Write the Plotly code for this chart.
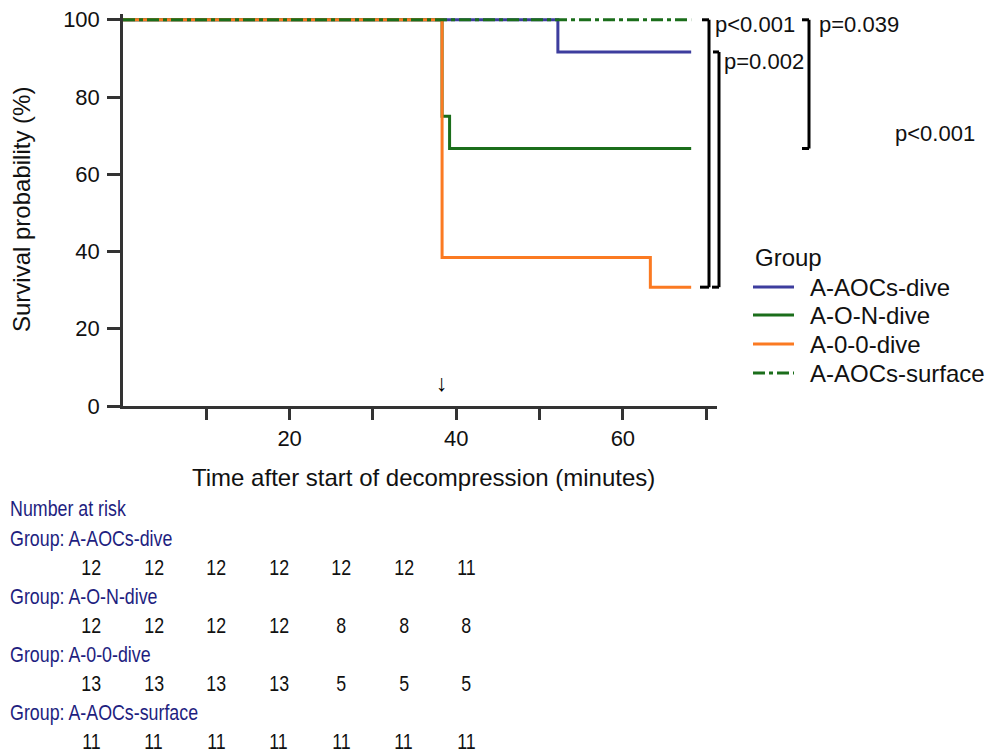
import plotly.graph_objects as go

W, H = 985, 755

# ---- data ----
groups = ["A-AOCs-dive", "A-O-N-dive", "A-0-0-dive", "A-AOCs-surface"]
t_aocs_dive = [0, 52.2, 68.2]
s_aocs_dive = [100, 91.67, 91.67]
t_on_dive = [0, 38.3, 39.2, 68.2]
s_on_dive = [100, 75.0, 66.67, 66.67]
t_00_dive = [0, 38.3, 63.3, 68.2]
s_00_dive = [100, 38.46, 30.77, 30.77]
t_surface = [0, 68.2]
s_surface = [100, 100]

risk_times = [0, 10, 20, 30, 40, 50, 60]
risk_aocs_dive = [12, 12, 12, 12, 12, 12, 11]
risk_on_dive = [12, 12, 12, 12, 8, 8, 8]
risk_00_dive = [13, 13, 13, 13, 5, 5, 5]
risk_surface = [11, 11, 11, 11, 11, 11, 11]

x_tickvals = [10, 20, 30, 40, 50, 60, 70]
x_ticktext = ["", "20", "", "40", "", "60", ""]
y_tickvals = [0, 20, 40, 60, 80, 100]

pvals = ["p<0.001", "p=0.002", "p=0.039", "p<0.001"]
arrow_time = 38.3

# ---- style ----
C_BLUE = "#3d3d9e"
C_GREEN = "#1b6e1b"
C_ORANGE = "#fb7a22"
NAVY = "#1e1e80"
AX = "#333333"
TXT = "#111111"
FONT = "Liberation Sans, Arial, sans-serif"
NARROW = "Liberation Sans Narrow, Arial Narrow, Liberation Sans, sans-serif"
DASHDOT = "12px,4px,4px,4px"


def px(x):
    return x / W


def py(y):
    return 1 - y / H


fig = go.Figure()
series = [
    (groups[0], t_aocs_dive, s_aocs_dive, C_BLUE, "solid"),
    (groups[1], t_on_dive, s_on_dive, C_GREEN, "solid"),
    (groups[2], t_00_dive, s_00_dive, C_ORANGE, "solid"),
    (groups[3], t_surface, s_surface, C_GREEN, DASHDOT),
]
for name, t, s, c, d in series:
    fig.add_trace(go.Scatter(x=t, y=s, mode="lines", name=name,
                             line=dict(color=c, width=3, dash=d, shape="hv"),
                             hoverinfo="skip", showlegend=False))

x0, x1 = 123, 717
y_top, y_bot = 14, 406
fig.update_layout(
    width=W, height=H,
    margin=dict(l=0, r=0, t=0, b=0, autoexpand=False),
    paper_bgcolor="white", plot_bgcolor="white",
    font=dict(family=FONT, size=22, color=TXT),
    showlegend=False,
    xaxis=dict(domain=[px(x0), px(x1)], range=[0, 71.3], automargin=False,
               tickmode="array", tickvals=x_tickvals, ticktext=x_ticktext,
               ticks="outside", ticklen=11, tickwidth=2.5, tickcolor=AX,
               showline=True, linecolor=AX, linewidth=2.5, showgrid=False,
               zeroline=False, anchor="y",
               tickfont=dict(size=22, color=TXT)),
    yaxis=dict(domain=[py(y_bot), py(y_top)], range=[0, 101.5], automargin=False,
               tickmode="array", tickvals=y_tickvals,
               ticks="outside", ticklen=13, tickwidth=2.5, tickcolor=AX,
               showline=True, linecolor=AX, linewidth=2.5, showgrid=False,
               zeroline=False, anchor="x", ticklabelstandoff=3,
               tickfont=dict(size=22, color=TXT)),
)

# ---- brackets (x in pixels, y in data units) ----
def bracket(xv, ya, yb, tick_top, tick_bot):
    for xa, xb, yy in [(xv - tick_top, xv, ya), (xv - tick_bot, xv, yb)]:
        fig.add_shape(type="line", xref="paper", yref="y",
                      x0=px(xa), x1=px(xb), y0=yy, y1=yy,
                      line=dict(color="black", width=3))
    fig.add_shape(type="line", xref="paper", yref="y",
                  x0=px(xv), x1=px(xv), y0=ya, y1=yb,
                  line=dict(color="black", width=3))


bracket(709, s_surface[-1], s_00_dive[-1], 7, 9)
bracket(719, s_aocs_dive[-1], s_00_dive[-1], 6, 7)
bracket(809, s_surface[-1], s_on_dive[-1], 7, 7)

ann = []


def text(x, y, s, size=22, color=TXT, font=FONT, xanchor="left", yref="paper", angle=0):
    ann.append(dict(x=px(x), y=(py(y) if yref == "paper" else y), xref="paper", yref=yref,
                    text=s, showarrow=False, xanchor=xanchor, yanchor="middle",
                    textangle=angle,
                    font=dict(size=size, color=color, family=font)))


# axis titles
text(423, 477, "Time after start of decompression (minutes)", size=24, xanchor="center")
text(22, 210, "Survival probability (%)", size=24, xanchor="center", angle=-90)

# p-values
text(713, 24, pvals[0])
text(722, 61, pvals[1])
text(817, 24, pvals[2])
text(893, 133, pvals[3])

# arrow marking time of event
ann.append(dict(x=arrow_time, y=6, xref="x", yref="y", text="↓", showarrow=False,
                font=dict(size=23, color="black", family=FONT)))

# ---- manual legend ----
text(753, 257, "Group", size=24)
leg_y = [287, 315, 344, 373]
for (name, t, s, c, d), yy in zip(series, leg_y):
    fig.add_shape(type="line", xref="paper", yref="paper",
                  x0=px(753), x1=px(794), y0=py(yy), y1=py(yy),
                  line=dict(color=c, width=3, dash=d))
    text(808, yy, name, size=24)

# ---- number at risk table (condensed look) ----
TS = 22
text(8, 509, "Number at risk", size=TS, color=NAVY, font=NARROW)
rows = [risk_aocs_dive, risk_on_dive, risk_00_dive, risk_surface]
for i, (g, r) in enumerate(zip(groups, rows)):
    yl = 538 + i * 58
    text(8, yl, "Group: " + g, size=TS, color=NAVY, font=NARROW)
    for t, n in zip(risk_times, r):
        ann.append(dict(x=px(91 + t * 6.25), y=py(yl + 29), xref="paper", yref="paper",
                        text=str(n), showarrow=False, xanchor="center", yanchor="middle",
                        font=dict(size=TS, color=TXT, family=NARROW)))

fig.update_layout(annotations=ann)

# squeeze the table's text horizontally to mimic the narrow font of the original
post = """
var gd = document.getElementById('{plot_id}');
gd.querySelectorAll('text.annotation-text').forEach(function(t){
  var st = t.getAttribute('style') || '';
  if (st.indexOf('Narrow') < 0) return;
  var b = t.getBBox();
  var s = 0.81;
  var cx = /^\\d+$/.test(t.textContent.trim()) ? (b.x + b.width / 2) : b.x;
  t.setAttribute('transform', 'translate(' + cx + ',0) scale(' + s + ',1) translate(' + (-cx) + ',0)');
});
document.body.style.margin = '0';
"""
fig.write_html("out.html", config={"displayModeBar": False}, post_script=post)
